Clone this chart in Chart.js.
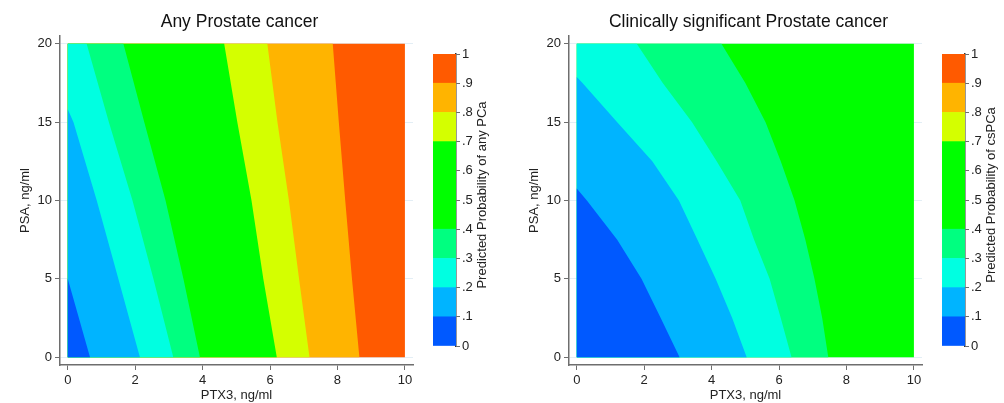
<!DOCTYPE html>
<html>
<head>
<meta charset="utf-8">
<script src="https://cdn.jsdelivr.net/npm/chart.js@4.4.1/dist/chart.umd.min.js"></script>
<style>
  html, body { margin: 0; padding: 0; background: #fff; overflow: hidden; }
  #wrap { position: relative; width: 1004px; height: 403px; }
  .box { position: absolute; top: 0; height: 403px; }
</style>
</head>
<body>
<div id="wrap">
  <div class="box" style="left:0;width:479px"><canvas id="mainAny"></canvas></div>
  <div class="box" style="left:433px;width:66px"><canvas id="barAny"></canvas></div>
  <div class="box" style="left:509px;width:479px"><canvas id="mainCs"></canvas></div>
  <div class="box" style="left:942px;width:62px"><canvas id="barCs"></canvas></div>
</div>
<script>
// axes
const ptxTicks = [0, 2, 4, 6, 8, 10]
const psaTicks = [0, 5, 10, 15, 20]
const probTicks = [0, .1, .2, .3, .4, .5, .6, .7, .8, .9, 1]
const bandColors = ['#0059ff', '#00b4ff', '#00ffe1', '#00ff80', '#00ff00', '#00ff00', '#00ff00', '#d4ff00', '#ffb400', '#ff5a00']

// any PCa - PTX3 where each contour crosses the PSA rows (null = contour already left at PTX3 = 0)
const anyPsa = [0, 5, 10, 15, 20]
const anyLevels = [.1, .2, .3, .4, .7, .8, .9]
const anyCuts = [
    [0.66, null, null, null, null],
    [2.14, 1.50, 0.86, 0.17, null],
    [3.13, 2.54, 1.92, 1.22, 0.56],
    [3.92, 3.43, 2.90, 2.27, 1.65],
    [6.20, 5.80, 5.45, 5.03, 4.64],
    [7.17, 6.86, 6.56, 6.22, 5.92],
    [8.65, 8.43, 8.23, 8.04, 7.86]
]
// PSA where the contour meets PTX3 = 0
const anyEdge = [5.0, 15.83, null, null, null, null, null]

// csPCa
const csPsa = [0, 2.5, 5, 7.5, 10, 12.5, 15, 17.5, 20]
const csLevels = [.1, .2, .3, .4]
const csCuts = [
    [3.05, 2.49, 1.92, 1.20, 0.30, null, null, null, null],
    [5.04, 4.61, 4.12, 3.58, 3.03, 2.24, 1.20, 0.17, null],
    [6.37, 6.05, 5.72, 5.26, 4.85, 4.15, 3.42, 2.55, 1.78],
    [7.46, 7.28, 7.05, 6.78, 6.46, 6.05, 5.60, 5.00, 4.29]
]
const csEdge = [10.76, 17.89, null, null]

Chart.defaults.font.family = '"Liberation Sans", Arial, Helvetica, sans-serif'
Chart.defaults.color = '#222'
const axisGrey = '#6e6e6e'

// polygon of everything left of a contour (lower probability side)
function regionLeftOf(rows, cuts, edge) {
    const pts = []
    cuts.forEach((x, i) => { if (x !== null) pts.push({ x: x, y: rows[i] }) })
    pts.push({ x: 0, y: edge !== null ? edge : rows[rows.length - 1] })
    pts.push({ x: 0, y: 0 })
    return pts
}

function contourSets(rows, levels, cuts, edges) {
    const xMax = ptxTicks[ptxTicks.length - 1]
    const yMax = psaTicks[psaTicks.length - 1]
    const sets = levels.map((lv, k) => ({
        data: regionLeftOf(rows, cuts[k], edges[k]),
        backgroundColor: bandColors[Math.round(lv * 10) - 1]
    }))
    // highest band fills the whole plot, drawn first (last dataset)
    sets.push({
        data: [{ x: xMax, y: 0 }, { x: xMax, y: yMax }, { x: 0, y: yMax }, { x: 0, y: 0 }],
        backgroundColor: bandColors[Math.round(levels[levels.length - 1] * 10)]
    })
    return sets.map(s => ({
        ...s, showLine: true, fill: 'shape', borderWidth: 0, borderColor: 'transparent',
        pointRadius: 0, pointHoverRadius: 0, tension: 0
    }))
}

function mainChart(id, title, sets) {
    return new Chart(document.getElementById(id), {
        type: 'scatter',
        data: { datasets: sets },
        options: {
            animation: false,
            responsive: true,
            maintainAspectRatio: false,
            events: [],
            layout: { padding: 0 },
            plugins: {
                legend: { display: false },
                tooltip: { enabled: false },
                title: {
                    display: true, text: title, color: '#111',
                    font: { size: 17.5, weight: 'normal' },
                    padding: { top: 12, bottom: 3 }
                }
            },
            scales: {
                x: {
                    type: 'linear', min: -0.23, max: 10.24,
                    afterBuildTicks: s => { s.ticks = ptxTicks.map(v => ({ value: v })) },
                    afterFit: s => { s.height = 38 },
                    grid: { drawOnChartArea: false, color: axisGrey, tickLength: 5 },
                    border: { color: axisGrey, width: 1.5 },
                    ticks: { font: { size: 13 }, padding: 3, maxRotation: 0 },
                    title: { display: true, text: 'PTX3, ng/ml', font: { size: 13 }, padding: 0 }
                },
                y: {
                    type: 'linear', min: -0.5, max: 20.5,
                    afterBuildTicks: s => { s.ticks = psaTicks.map(v => ({ value: v })) },
                    afterFit: s => { s.width = 60 },
                    grid: { color: '#e3eef5', tickColor: axisGrey, tickLength: 5 },
                    border: { color: axisGrey, width: 1.5 },
                    ticks: { font: { size: 13 }, padding: 3 },
                    title: { display: true, text: 'PSA, ng/ml', font: { size: 13 }, padding: { top: 18, bottom: 0 } }
                },
                // spacer so the title centres over the whole panel
                yr: {
                    position: 'right', display: true,
                    grid: { display: false }, ticks: { display: false }, border: { display: false },
                    afterFit: s => { s.width = 66 }
                }
            }
        }
    })
}

const barTitle = text => ({
    id: 'barTitle',
    afterDraw(chart) {
        const { ctx, chartArea } = chart
        ctx.save()
        ctx.translate(chartArea.right + 26, (chartArea.top + chartArea.bottom) / 2 - 5)
        ctx.rotate(-Math.PI / 2)
        ctx.font = '13px "Liberation Sans", Arial, Helvetica, sans-serif'
        ctx.fillStyle = '#222'
        ctx.textAlign = 'center'
        ctx.textBaseline = 'middle'
        ctx.fillText(text, 0, 0)
        ctx.restore()
    }
})

function colorBar(id, label) {
    const el = document.getElementById(id)
    return new Chart(el, {
        type: 'bar',
        data: {
            labels: [''],
            datasets: bandColors.map((c, i) => ({
                data: [probTicks[i + 1] - probTicks[i]],
                backgroundColor: c, borderWidth: 0,
                barPercentage: 1, categoryPercentage: 1
            }))
        },
        options: {
            animation: false,
            responsive: true,
            maintainAspectRatio: false,
            events: [],
            layout: { padding: { top: 54, bottom: 57, left: 0, right: 0 } },
            plugins: { legend: { display: false }, tooltip: { enabled: false } },
            scales: {
                x: { display: false, stacked: true },
                y: {
                    position: 'right', stacked: true, min: 0, max: 1,
                    afterBuildTicks: s => { s.ticks = probTicks.map(v => ({ value: v })) },
                    afterFit: s => { s.width = el.parentNode.clientWidth - 23 },
                    grid: { drawOnChartArea: false, color: axisGrey, tickLength: 4 },
                    border: { color: '#333', width: 1.5 },
                    ticks: {
                        font: { size: 13 }, padding: 2,
                        callback: v => (v === 0 || v === 1) ? String(v) : v.toFixed(1).slice(1)
                    }
                }
            }
        },
        plugins: [barTitle(label)]
    })
}

mainChart('mainAny', 'Any Prostate cancer', contourSets(anyPsa, anyLevels, anyCuts, anyEdge))
colorBar('barAny', 'Predicted Probability of any PCa')
mainChart('mainCs', 'Clinically significant Prostate cancer', contourSets(csPsa, csLevels, csCuts, csEdge))
colorBar('barCs', 'Predicted Probability of csPCa')
</script>
</body>
</html>
